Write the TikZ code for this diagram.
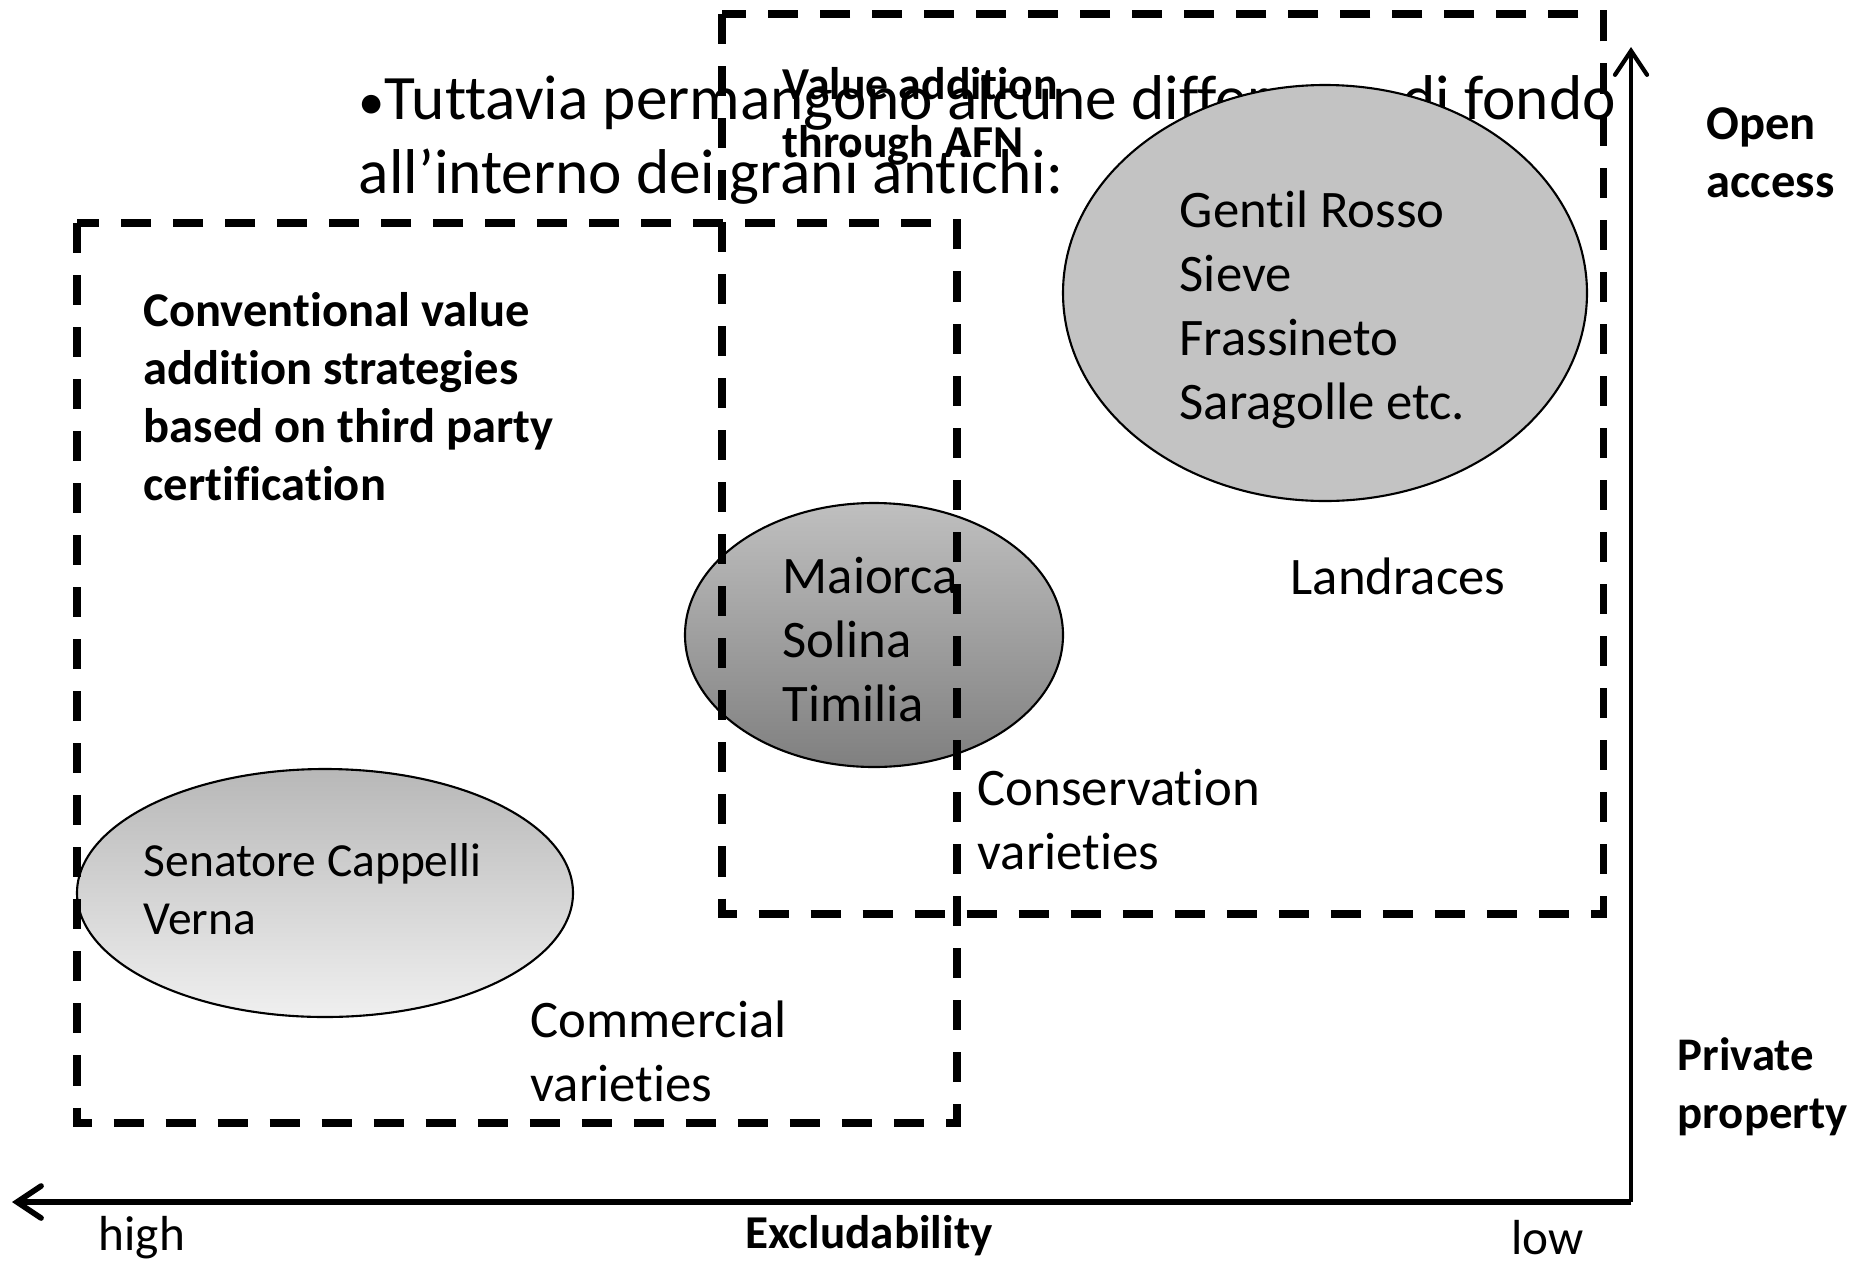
\documentclass[tikz,border=0pt]{standalone}
\usepackage{fontspec}
\setmainfont{Carlito}[Ligatures={NoCommon,NoContextual}]
\usetikzlibrary{arrows.meta}
\definecolor{ovalgray}{RGB}{195,195,195}
\begin{document}
\begin{tikzpicture}[x=0.01cm,y=-0.01cm,
  zone/.style={line width=2pt,dash pattern=on 3mm off 2.2mm},
  oval/.style={line width=0.6pt,draw=black},
  axis/.style={-{Straight Barb[length=2.4mm,width=3.2mm,line cap=round]}},
  lbl/.style={anchor=west,inner sep=0pt,align=left,font=\fontsize{15}{18.2}\selectfont},
  bold lbl/.style={lbl,font=\bfseries\fontsize{13.8}{16.5}\selectfont}]
\useasboundingbox (0,0) rectangle (1854,1260);
%	slide text behind the chart
\node[lbl,font=\fontsize{18}{21.2}\selectfont] (title) at (358,140) {{\fontsize{15}{15}\selectfont•}Tuttavia permangono alcune differenze di fondo\\all’interno dei grani antichi:};
\node[bold lbl,font=\bfseries\fontsize{13}{16.5}\selectfont] (afn) at (782,116) {Value addition\\through AFN};
%	groups of varieties
\filldraw[oval,fill=ovalgray] (1325,293) ellipse [x radius=262, y radius=208];
\shadedraw[oval,top color=black!28,bottom color=black!6] (325,893) ellipse [x radius=248, y radius=124];
\shadedraw[oval,top color=black!25,bottom color=black!50] (874,635) ellipse [x radius=189, y radius=132];
\node[lbl] (landrace) at (1179,310) {Gentil Rosso\\Sieve\\Frassineto\\Saragolle etc.};
\node[lbl] (conserv) at (782,640) {Maiorca\\Solina\\Timilia};
\node[lbl,font=\fontsize{13.5}{16.5}\selectfont] (commerc) at (143,889) {Senatore Cappelli\\Verna};
\node[lbl] (landlbl) at (1290,576) {Landraces};
\node[lbl] (conslbl) at (977,820) {Conservation\\varieties};
\node[lbl] (commlbl) at (530,1051) {Commercial\\varieties};
\node[bold lbl] (conv) at (143,397) {Conventional value\\addition strategies\\based on third party\\certification};
%	dashed zones
\draw[zone] (722,14) rectangle (1603,914);
\draw[zone] (77,223) rectangle (957,1123);
%	axes
\coordinate (corner) at (1631,1202);
\coordinate (ytip) at (1631,47);
\coordinate (xtip) at (12,1202);
\draw[axis,line width=1.2pt] (corner) -- (ytip);
\draw[axis,line width=1.6pt] (corner) -- (xtip);
\node[bold lbl] (open) at (1706,153) {Open\\access};
\node[bold lbl,font=\bfseries\fontsize{13.3}{16.5}\selectfont] (priv) at (1677,1087) {Private\\property};
\node[lbl,font=\fontsize{14}{16.5}\selectfont] (high) at (98,1238) {high};
\node[bold lbl,anchor=center,font=\bfseries\fontsize{13.4}{16}\selectfont] (excl) at (869,1236) {Excludability};
\node[lbl,font=\fontsize{14}{16.5}\selectfont] (low) at (1511,1238) {low};
\end{tikzpicture}
\end{document}
